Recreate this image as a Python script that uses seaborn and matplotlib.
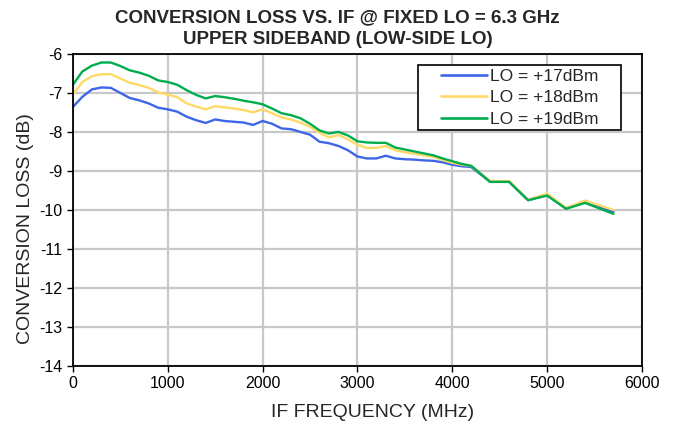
import matplotlib
matplotlib.use("Agg")
import matplotlib.pyplot as plt
import pandas as pd
import seaborn as sns
from matplotlib.legend_handler import HandlerLine2D
from matplotlib.lines import Line2D

# IF frequency points (MHz)
freq = [0, 100, 200, 300, 400, 500, 600, 700, 800, 900,
        1000, 1100, 1200, 1300, 1400, 1500, 1600, 1700, 1800, 1900,
        2000, 2100, 2200, 2300, 2400, 2500, 2600, 2700, 2800, 2900,
        3000, 3100, 3200, 3300, 3400, 3500, 3600, 3700, 3800, 3900,
        4000, 4100, 4200, 4400, 4600, 4800, 5000, 5200, 5400, 5700]

lo_17 = [-7.36, -7.10, -6.91, -6.86, -6.87, -7.00, -7.13, -7.19, -7.27, -7.38,
         -7.42, -7.48, -7.61, -7.70, -7.77, -7.68, -7.72, -7.74, -7.76, -7.82,
         -7.72, -7.79, -7.91, -7.93, -8.00, -8.07, -8.25, -8.29, -8.36, -8.47,
         -8.63, -8.68, -8.68, -8.61, -8.68, -8.70, -8.71, -8.73, -8.74, -8.78,
         -8.84, -8.88, -8.90, -9.28, -9.28, -9.75, -9.62, -9.96, -9.80, -10.05]

lo_18 = [-7.04, -6.72, -6.57, -6.52, -6.52, -6.63, -6.74, -6.80, -6.87, -6.99,
         -7.04, -7.11, -7.27, -7.35, -7.42, -7.34, -7.37, -7.40, -7.44, -7.50,
         -7.42, -7.52, -7.63, -7.68, -7.76, -7.87, -8.02, -8.14, -8.08, -8.19,
         -8.33, -8.41, -8.41, -8.36, -8.47, -8.52, -8.56, -8.60, -8.64, -8.72,
         -8.79, -8.84, -8.87, -9.26, -9.26, -9.74, -9.58, -9.95, -9.76, -10.00]

lo_19 = [-6.79, -6.45, -6.30, -6.22, -6.22, -6.31, -6.42, -6.48, -6.56, -6.68,
         -6.72, -6.79, -6.93, -7.05, -7.14, -7.08, -7.11, -7.15, -7.20, -7.24,
         -7.29, -7.40, -7.52, -7.57, -7.65, -7.79, -7.96, -8.04, -8.00, -8.09,
         -8.24, -8.27, -8.28, -8.28, -8.40, -8.45, -8.50, -8.55, -8.60, -8.68,
         -8.75, -8.82, -8.87, -9.28, -9.28, -9.75, -9.63, -9.97, -9.82, -10.10]

labels = ["LO = +17dBm", "LO = +18dBm", "LO = +19dBm"]
colors = ["#3f66e8", "#ffd966", "#00ad4e"]

df = pd.concat([
    pd.DataFrame({"freq": freq, "loss": vals, "LO": lab})
    for vals, lab in zip([lo_17, lo_18, lo_19], labels)
])

sns.set_style("white")
plt.rcParams["font.family"] = ["Liberation Sans", "DejaVu Sans"]
plt.rcParams["axes.unicode_minus"] = False

fig = plt.figure(figsize=(6.75, 4.28), dpi=100)
ax = fig.add_axes([0.108, 0.145, 0.843, 0.729])

sns.lineplot(data=df, x="freq", y="loss", hue="LO", palette=colors,
             linewidth=1.7, ax=ax)

ax.set_xlim(0, 6000)
ax.set_ylim(-14, -6)
ax.set_xticks(range(0, 6001, 1000))
ax.set_yticks(range(-14, -5, 1))
ax.grid(True, color="#c8c8c8", linewidth=1.6)
ax.set_axisbelow(True)
for s in ax.spines.values():
    s.set_color("black")
    s.set_linewidth(1.3)
ax.tick_params(axis="both", labelsize=11.5, length=4, width=1, colors="black",
               direction="out", bottom=True, left=True)

ax.set_xlabel("IF FREQUENCY (MHz)", fontsize=14)
ax.set_ylabel("CONVERSION LOSS (dB)", fontsize=14)
ax.xaxis.set_label_coords(0.527, -0.122)
ax.yaxis.set_label_coords(-0.068, 0.439)
fig.suptitle("CONVERSION LOSS VS. IF @ FIXED LO = 6.3 GHz\nUPPER SIDEBAND (LOW-SIDE LO)",
             fontsize=13.5, fontweight="bold", y=0.978, linespacing=1.36)

# legend box stretched to the reference width
leg = ax.legend(loc="upper left", bbox_to_anchor=(0.606, 0.5, 0.357, 0.465),
                mode="expand", fontsize=12.5,
                frameon=True, fancybox=False, edgecolor="black", framealpha=1,
                handlelength=3.75, borderpad=0.22, labelspacing=0.36,
                handletextpad=0.2, borderaxespad=0,
                handler_map={Line2D: HandlerLine2D(xpad=1.1)})
leg.get_frame().set_linewidth(1.2)
for line in leg.get_lines():
    line.set_linewidth(1.9)

fig.savefig("out.png", dpi=100)
